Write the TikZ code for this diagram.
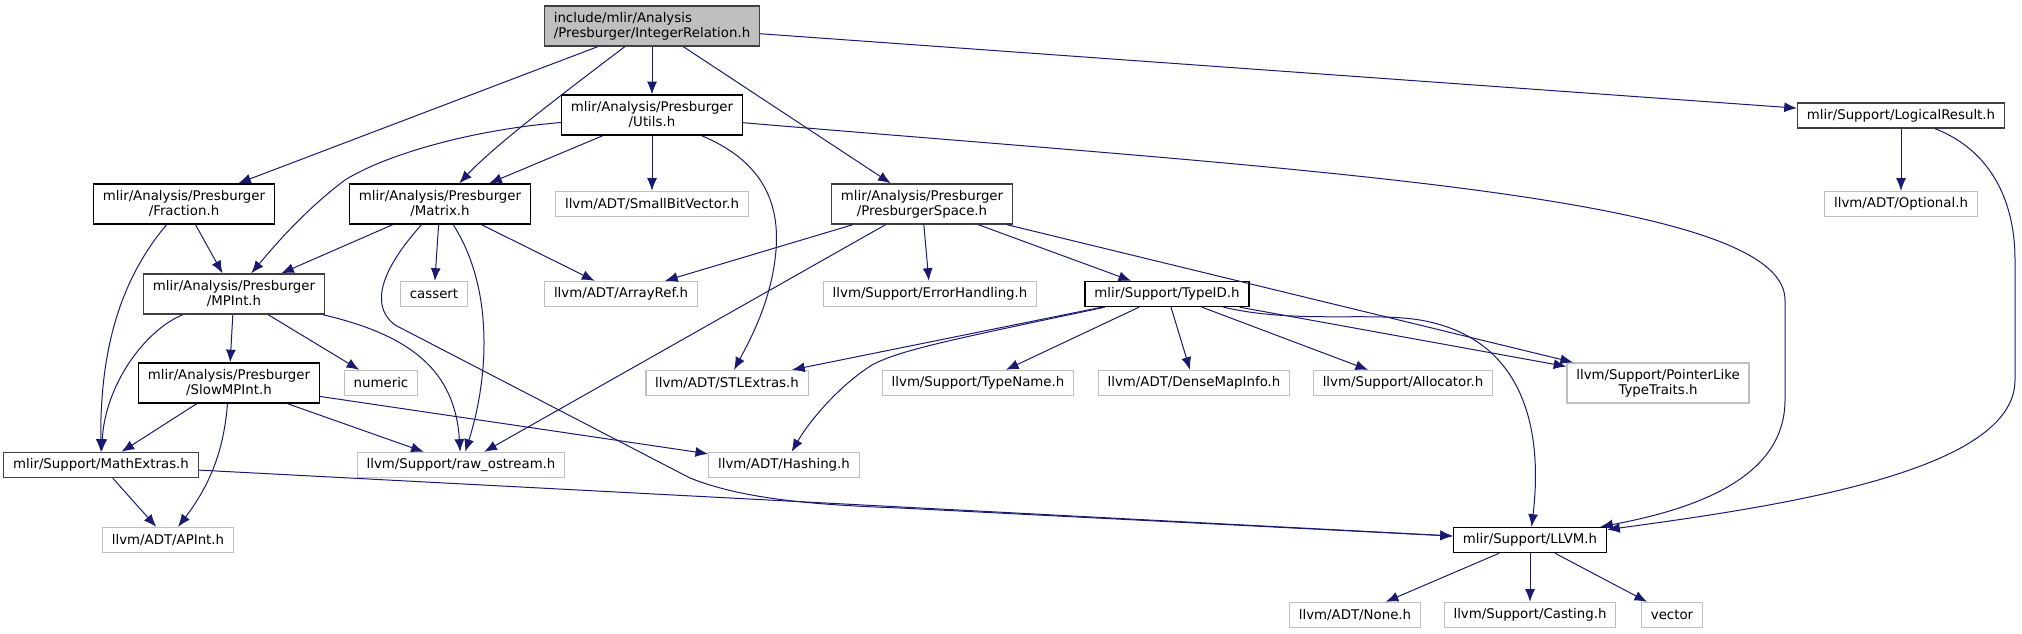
\documentclass[tikz,border=0pt]{standalone}
\usepackage{fontspec}
\setmainfont{DejaVu Sans}
\usetikzlibrary{arrows.meta}
\definecolor{edgeblue}{HTML}{191970}
\definecolor{extgray}{HTML}{BFBFBF}
\definecolor{dkgray}{HTML}{404040}

\begin{document}
\begin{tikzpicture}[x=0.75pt,y=-0.75pt,>={Latex[length=9.5pt,width=7.5pt]},
  hdr/.style={draw=black,line width=1pt,fill=white,inner xsep=7pt,inner ysep=1pt,
    align=center,font=\fontsize{10}{11.25}\selectfont,minimum height=18.75pt},
  two/.style={minimum height=30pt},
  ext/.style={hdr,draw=extgray},
  dkf/.style={hdr,draw=dkgray},
  root/.style={hdr,draw=dkgray,fill=extgray,align=left},
  dep/.style={->,draw=edgeblue,line width=0.75pt}]
  \useasboundingbox (0,0) rectangle (2022,633);
  \node[root,two] (IR) at (652,26) {include/mlir/Analysis\\/Presburger/IntegerRelation.h};
  \node[hdr,two] (UT) at (652,115) {mlir/Analysis/Presburger\\/Utils.h};
  \node[dkf] (LR) at (1901,115.5) {mlir/Support/LogicalResult.h};
  \node[hdr,two] (FR) at (184,204) {mlir/Analysis/Presburger\\/Fraction.h};
  \node[hdr,two] (MX) at (440,204) {mlir/Analysis/Presburger\\/Matrix.h};
  \node[ext] (SBV) at (652,204) {llvm/ADT/SmallBitVector.h};
  \node[dkf,two] (PS) at (922,204) {mlir/Analysis/Presburger\\/PresburgerSpace.h};
  \node[ext] (OPT) at (1901,204) {llvm/ADT/Optional.h};
  \node[dkf,two] (MP) at (234,294) {mlir/Analysis/Presburger\\/MPInt.h};
  \node[ext] (CA) at (434,294) {cassert};
  \node[ext] (AR) at (621,294) {llvm/ADT/ArrayRef.h};
  \node[ext] (EH) at (930,294) {llvm/Support/ErrorHandling.h};
  \node[hdr] (TID) at (1167,294) {mlir/Support/TypeID.h};
  \node[hdr,two] (SMP) at (229,383) {mlir/Analysis/Presburger\\/SlowMPInt.h};
  \node[ext] (NUM) at (381,383) {numeric};
  \node[ext] (STL) at (727,383) {llvm/ADT/STLExtras.h};
  \node[ext] (TN) at (978,383) {llvm/Support/TypeName.h};
  \node[ext] (DMI) at (1194,383) {llvm/ADT/DenseMapInfo.h};
  \node[ext] (ALC) at (1403,383) {llvm/Support/Allocator.h};
  \node[ext,two] (PLT) at (1658,383) {llvm/Support/PointerLike\\TypeTraits.h};
  \node[dkf] (ME) at (101,465) {mlir/Support/MathExtras.h};
  \node[ext] (RO) at (461,465) {llvm/Support/raw\_ostream.h};
  \node[ext] (HS) at (784,465) {llvm/ADT/Hashing.h};
  \node[ext] (API) at (168,540) {llvm/ADT/APInt.h};
  \node[hdr] (LL) at (1530,540) {mlir/Support/LLVM.h};
  \node[ext] (NON) at (1355,615) {llvm/ADT/None.h};
  \node[ext] (CST) at (1530,615) {llvm/Support/Casting.h};
  \node[ext] (VEC) at (1672,615) {vector};
  \draw[dep] (IR) -- (FR);
  \draw[dep] (IR) .. controls (565,92) and (495,145) .. (MX);
  \draw[dep] (IR) -- (UT);
  \draw[dep] (IR) -- (PS);
  \draw[dep] (IR) -- (LR);
  \draw[dep] (UT) .. controls (470,130) and (385,155) .. (345,180) .. controls (305,210) and (275,245) .. (MP);
  \draw[dep] (UT) -- (MX);
  \draw[dep] (UT) -- (SBV);
  \draw[dep] (UT) .. controls (760,160) and (780,200) .. (776,250) .. controls (772,300) and (750,340) .. (STL);
  \draw[dep] (UT) .. controls (1300,170) and (1785,195) .. (1785,300) -- (1785,400) .. controls (1785,480) and (1690,510) .. (LL);
  \draw[dep] (FR) -- (MP);
  \draw[dep] (FR) .. controls (120,280) and (100,350) .. (ME);
  \draw[dep] (MX) -- (MP);
  \draw[dep] (MX) -- (CA);
  \draw[dep] (MX) -- (AR);
  \draw[dep] (MX) .. controls (495,290) and (488,380) .. (RO);
  \draw[dep] (MX) .. controls (372,280) and (375,310) .. (395,325) -- (690,478) .. controls (745,500) and (820,505) .. (900,508) -- (LL);
  \draw[dep] (MP) -- (SMP);
  \draw[dep] (MP) -- (NUM);
  \draw[dep] (MP) .. controls (145,330) and (105,385) .. (ME);
  \draw[dep] (MP) .. controls (410,335) and (455,370) .. (RO);
  \draw[dep] (SMP) -- (ME);
  \draw[dep] (SMP) .. controls (224,450) and (210,485) .. (API);
  \draw[dep] (SMP) -- (RO);
  \draw[dep] (SMP) -- (HS);
  \draw[dep] (ME) -- (API);
  \draw[dep] (ME) -- (LL);
  \draw[dep] (PS) -- (AR);
  \draw[dep] (PS) -- (RO);
  \draw[dep] (PS) -- (EH);
  \draw[dep] (PS) -- (TID);
  \draw[dep] (PS) -- (PLT);
  \draw[dep] (TID) -- (STL);
  \draw[dep] (TID) .. controls (950,340) and (900,350) .. (872,365) .. controls (840,385) and (810,420) .. (HS);
  \draw[dep] (TID) -- (TN);
  \draw[dep] (TID) -- (DMI);
  \draw[dep] (TID) -- (ALC);
  \draw[dep] (TID) -- (PLT);
  \draw[dep] (TID) .. controls (1300,325) and (1380,310) .. (1430,322) .. controls (1530,345) and (1542,440) .. (LL);
  \draw[dep] (LR) -- (OPT);
  \draw[dep] (LR) .. controls (1990,150) and (2015,200) .. (2015,260) -- (2015,380) .. controls (2015,470) and (1790,505) .. (LL);
  \draw[dep] (LL) -- (NON);
  \draw[dep] (LL) -- (CST);
  \draw[dep] (LL) -- (VEC);
\end{tikzpicture}
\end{document}
